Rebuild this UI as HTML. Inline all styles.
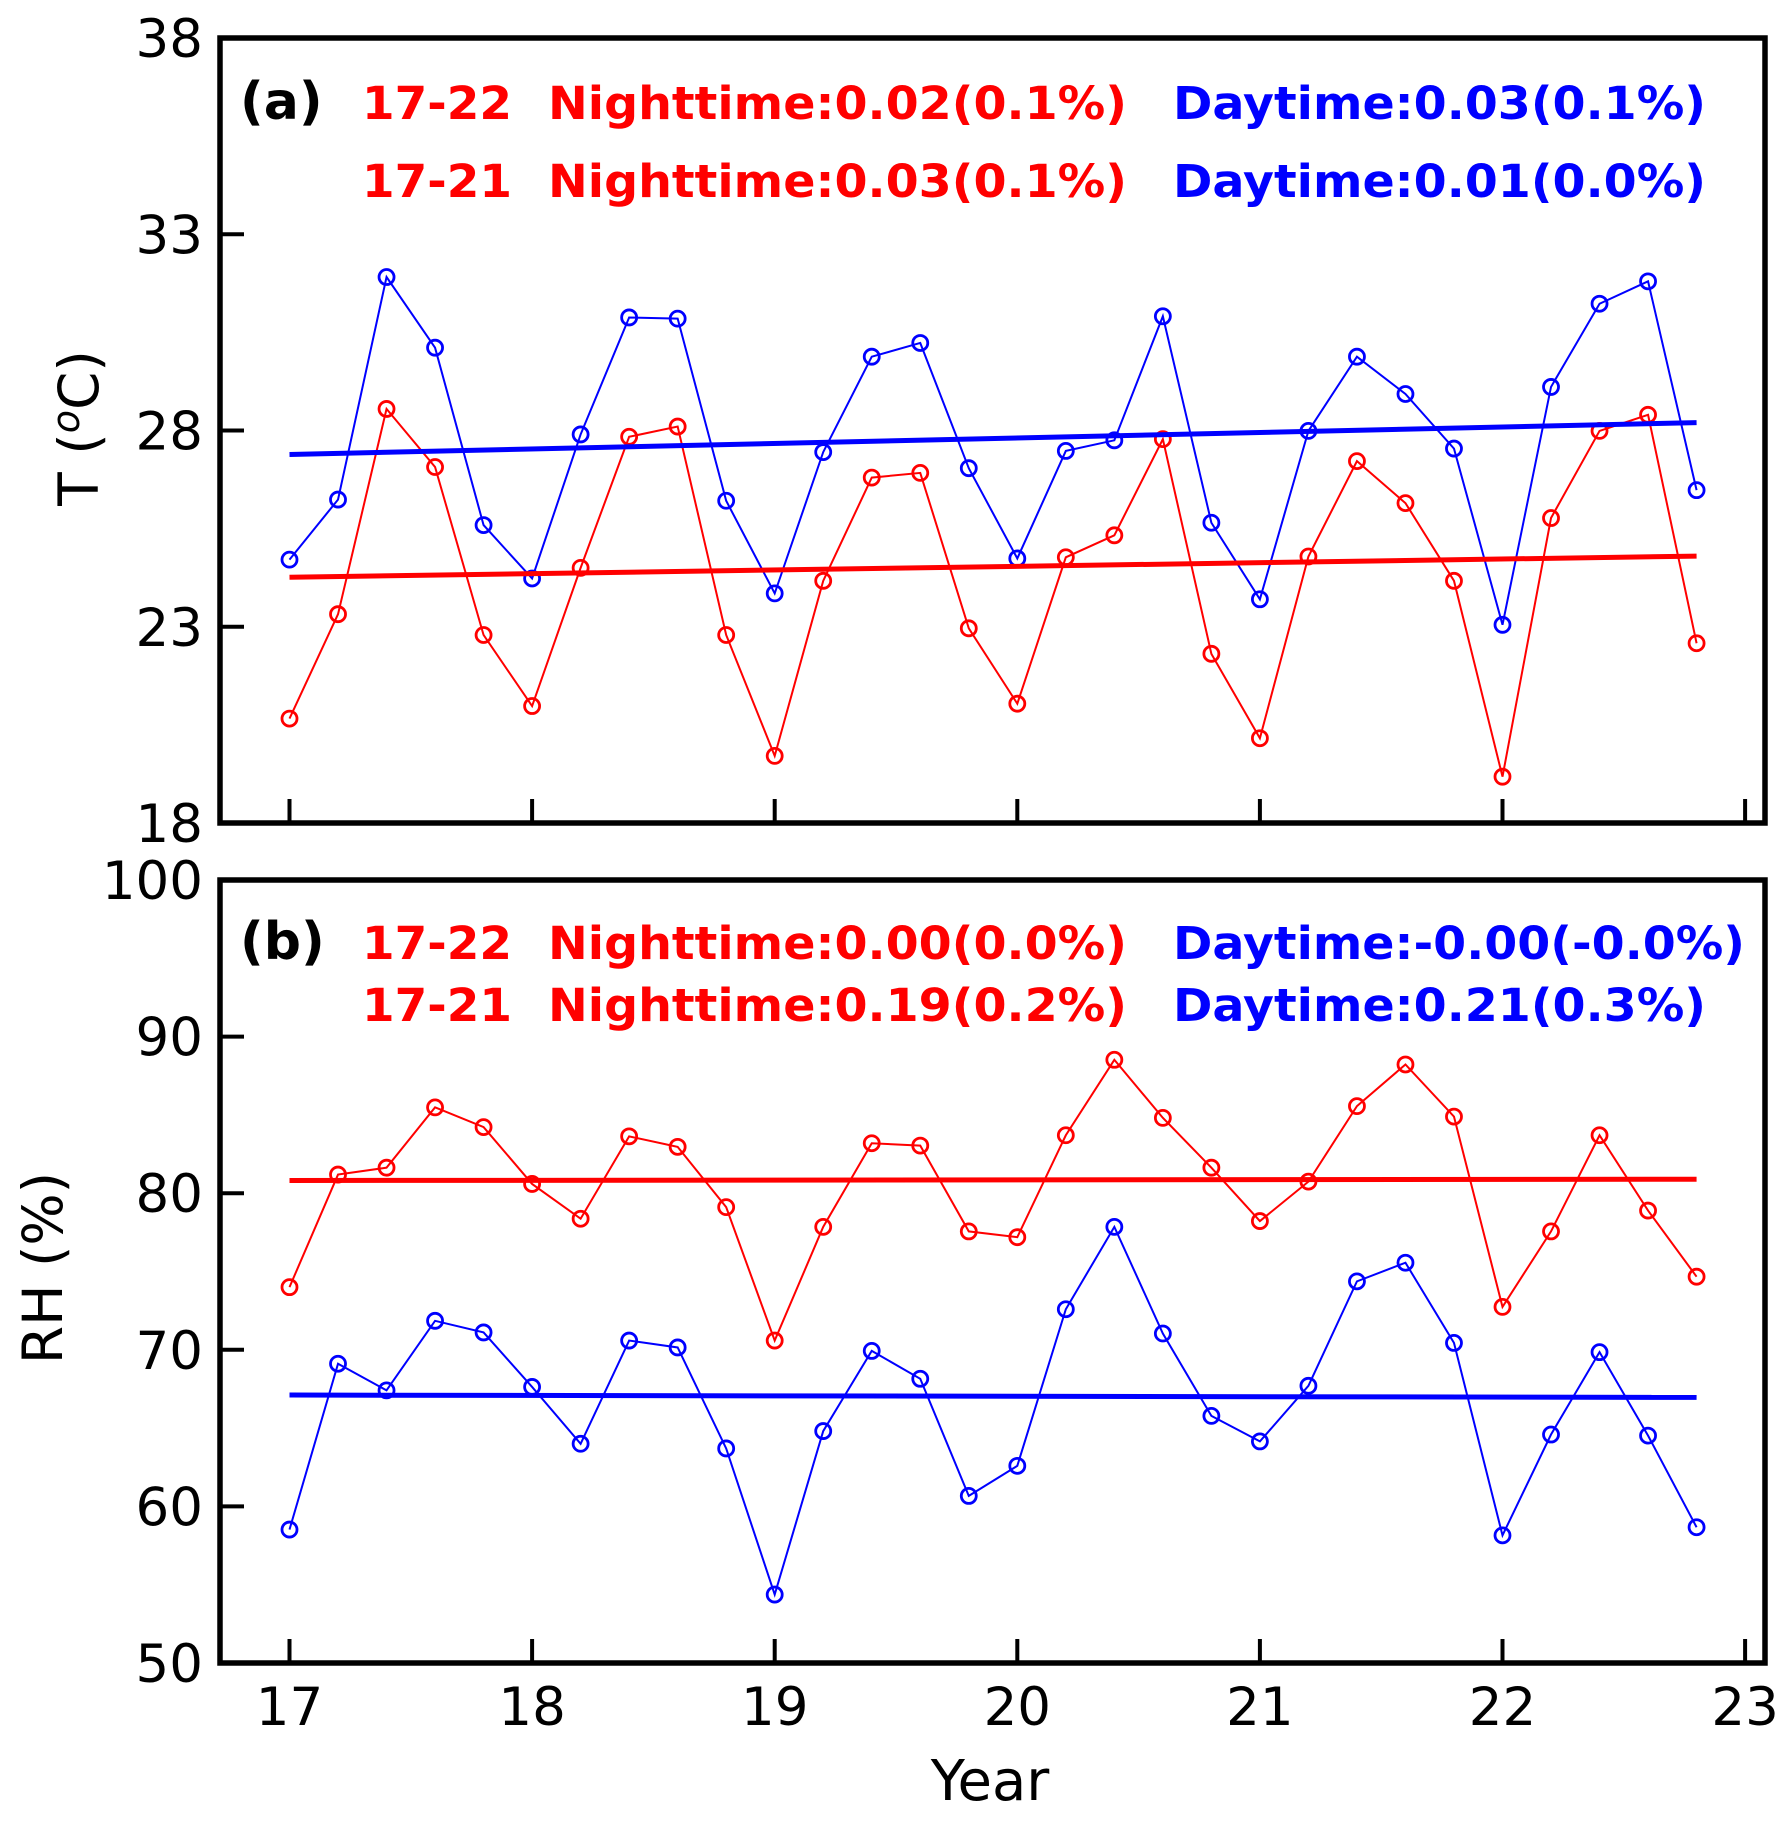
<!DOCTYPE html>
<html><head><meta charset="utf-8"><style>
html,body{margin:0;padding:0;background:#fff;}
svg text{font-family:"DejaVu Sans","Liberation Sans",sans-serif;}
</style></head><body>
<svg id="chart" width="1791" height="1816" viewBox="0 0 1791 1816" xmlns="http://www.w3.org/2000/svg"></svg>
<script>
const years = [17,17.2,17.4,17.6,17.8,18,18.2,18.4,18.6,18.8,19,19.2,19.4,19.6,19.8,20,20.2,20.4,20.6,20.8,21,21.2,21.4,21.6,21.8,22,22.2,22.4,22.6,22.8];
const tDay = [24.71,26.24,31.91,30.11,25.59,24.23,27.90,30.88,30.85,26.21,23.85,27.45,29.88,30.23,27.04,24.74,27.48,27.75,30.91,25.65,23.70,27.99,29.88,28.93,27.54,23.05,29.11,31.23,31.80,26.48];
const tNight = [20.66,23.32,28.55,27.07,22.79,20.98,24.50,27.84,28.10,22.79,19.71,24.17,26.80,26.92,22.96,21.04,24.77,25.33,27.78,22.31,20.16,24.79,27.22,26.15,24.17,19.18,25.77,27.99,28.40,22.58];
const rhNight = [74.0,81.19,81.63,85.48,84.22,80.59,78.37,83.63,82.96,79.11,70.59,77.85,83.19,83.04,77.56,77.19,83.7,88.52,84.81,81.63,78.22,80.74,85.56,88.22,84.89,72.74,77.56,83.7,78.89,74.67];
const rhDay = [58.52,69.11,67.41,71.85,71.11,67.63,64.0,70.59,70.15,63.7,54.37,64.81,69.93,68.15,60.67,62.59,72.59,77.85,71.04,65.78,64.15,67.7,74.37,75.56,70.44,58.15,64.59,69.85,64.52,58.67];
const tDayTrend = [27.39,28.2];
const tNightTrend = [24.26,24.80];
const rhNightTrend = [80.81,80.89];
const rhDayTrend = [67.11,66.96];
const xTicks = [17,18,19,20,21,22,23];
const tTicks = [18,23,28,33,38];
const rhTicks = [50,60,70,80,90,100];

const NS='http://www.w3.org/2000/svg';
const svg=document.getElementById('chart');
function el(tag,attrs,parent){const e=document.createElementNS(NS,tag);for(const k in attrs)e.setAttribute(k,attrs[k]);(parent||svg).appendChild(e);return e;}
const X0=220,X1=1765;
const xs=v=>289.5+(v-17)*242.6;
const panels=[
 {top:38,bot:823,min:18,max:38,ticks:tTicks,name:'temperature-panel',label:'T (',sup:true,night:tNight,day:tDay,nt:tNightTrend,dt:tDayTrend,
  tag:'(a)',lines:[['17-22','Nighttime:0.02(0.1%)','Daytime:0.03(0.1%)'],['17-21','Nighttime:0.03(0.1%)','Daytime:0.01(0.0%)']],by:[119,197],labelY:428,labelX:98},
 {top:880,bot:1663,min:50,max:100,ticks:rhTicks,name:'humidity-panel',label:'RH (%)',night:rhNight,day:rhDay,nt:rhNightTrend,dt:rhDayTrend,
  tag:'(b)',lines:[['17-22','Nighttime:0.00(0.0%)','Daytime:-0.00(-0.0%)'],['17-21','Nighttime:0.19(0.2%)','Daytime:0.21(0.3%)']],by:[959,1021],labelY:1268,labelX:62}
];
panels.forEach((p,pi)=>{
 const g=el('g',{});
 
 
 const ys=v=>p.bot-(v-p.min)/(p.max-p.min)*(p.bot-p.top);
 [[p.night,'#ff0000','night'],[p.day,'#0000ff','day']].forEach(([arr,c,n])=>{
   const pts=arr.map((v,i)=>xs(years[i])+','+ys(v)).join(' ');
   const pl=el('polyline',{points:pts,fill:'none',stroke:c,'stroke-width':2},g);
   
   
   arr.forEach((v,i)=>{
     const m=el('circle',{cx:xs(years[i]),cy:ys(v),r:7.5,fill:'none',stroke:c,'stroke-width':2.8},g);
     
     
   });
 });
 [[p.nt,'#ff0000','night'],[p.dt,'#0000ff','day']].forEach(([tr,c,n])=>{
   const l=el('line',{x1:xs(17),x2:xs(22.8),y1:ys(tr[0]),y2:ys(tr[1]),stroke:c,'stroke-width':5},g);
   
   
 });
 const fr=el('rect',{x:X0,y:p.top,width:X1-X0,height:p.bot-p.top,fill:'none',stroke:'#000','stroke-width':5.5},g);
 
 
 p.ticks.forEach(t=>{
   const y=ys(t);
   el('line',{x1:X0,x2:X0+24,y1:y,y2:y,stroke:'#000','stroke-width':4},g);
   const tx=el('text',{x:203,y:y+19,'font-size':53,'text-anchor':'end',fill:'#000'},g);
   tx.textContent=t;
   
   
 });
 xTicks.forEach(t=>{
   const x=xs(t);
   el('line',{x1:x,x2:x,y1:p.bot,y2:p.bot-24,stroke:'#000','stroke-width':4},g);
   if(pi===1){
     const tx=el('text',{x:x,y:1725,'font-size':53,'text-anchor':'middle',fill:'#000'},g);
     tx.textContent=t;
     
     
   }
 });
 const yl=el('text',{x:p.labelX,y:p.labelY,'font-size':55,'text-anchor':'middle',fill:'#000',transform:`rotate(-90 ${p.labelX} ${p.labelY})`},g);
 if(p.sup){yl.innerHTML='T (<tspan font-style="italic" font-size="38" dy="-19">o</tspan><tspan dy="19">C)</tspan>';}
 else yl.textContent=p.label;
 
 
 const tg=el('text',{x:240,y:p.by[0],'font-size':52,'font-weight':'bold',fill:'#000'},g);
 tg.textContent=p.tag;
 
 
 p.lines.forEach((ln,li)=>{
   const y=p.by[li];
   const a=el('text',{x:362,y:y,'font-size':45,'font-weight':'bold',fill:'#ff0000',textLength:150,lengthAdjust:'spacingAndGlyphs'},g);
   a.textContent=ln[0];
   
   
   const b=el('text',{x:548,y:y,'font-size':45,'font-weight':'bold',fill:'#ff0000',textLength:579,lengthAdjust:'spacingAndGlyphs'},g);
   b.textContent=ln[1];
   
   
   const dEnd=(ln[2].length>19)?1745:1706;
   const c=el('text',{x:1173,y:y,'font-size':45,'font-weight':'bold',fill:'#0000ff',textLength:dEnd-1173,lengthAdjust:'spacingAndGlyphs'},g);
   c.textContent=ln[2];
   
   
 });
});
const xl=el('text',{x:990,y:1800,'font-size':56,'text-anchor':'middle',fill:'#000'});
xl.textContent='Year';


</script>
</body></html>
